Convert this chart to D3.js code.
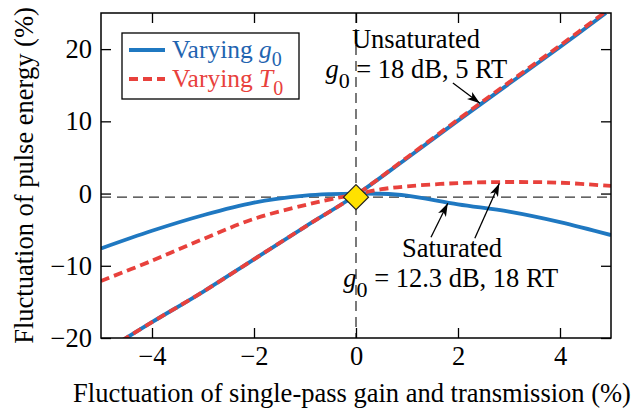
<!DOCTYPE html>
<html>
<head>
<meta charset="utf-8">
<script src="https://cdn.jsdelivr.net/npm/d3@7.9.0/dist/d3.min.js"></script>
</head>
<body style="margin:0;background:#fff">
<div id="chart"></div>
<script>
// ─── data ────────────────────────────────────────────────────────────────────
const xUnsat      = [-4.6, -4, -3, -2, -1, 0, 1, 2, 3, 4, 4.9];
const unsatG0     = [-20.4, -17.8, -13.6, -9.1, -4.6, -0.2, 4.9, 10.1, 15.2, 20.3, 25.0];
const unsatT0     = [-20.4, -17.8, -13.6, -9.1, -4.6, -0.2, 5.0, 10.25, 15.4, 20.5, 25.2];

const xSat        = [-5, -4, -3, -2, -1, -0.5, 0, 0.5, 1, 2, 3, 4, 5];
const satG0       = [-7.6, -5.15, -3.0, -1.25, -0.3, -0.08, 0.0, -0.03, -0.3, -1.5, -2.5, -3.95, -5.75];
const satT0       = [-12.1, -9.3, -6.3, -3.5, -1.6, -0.8, -0.1, 0.6, 1.0, 1.45, 1.6, 1.5, 1.05];

const xTicks = [-4, -2, 0, 2, 4];
const yTicks = [-20, -10, 0, 10, 20];
const refX = 0, refY = -0.5;

const BLUE = '#1f78c1', RED = '#e8413c';
const FONT = '"Liberation Serif", "Times New Roman", serif';
const FS = 26.5;

// ─── layout ──────────────────────────────────────────────────────────────────
const W = 643, H = 411;
const M = { top: 13, right: 32, bottom: 73, left: 101 };
const IW = W - M.left - M.right, IH = H - M.top - M.bottom;

const svg = d3.select('#chart').append('svg')
  .attr('width', W).attr('height', H);

const defs = svg.append('defs');
const g = svg.append('g').attr('transform', `translate(${M.left},${M.top})`);

const x = d3.scaleLinear().domain([-5, 5]).range([0, IW]);
const y = d3.scaleLinear().domain([-20, 25]).range([IH, 0]);

defs.append('clipPath').attr('id', 'clip')
  .append('rect').attr('width', IW).attr('height', IH);

// reference lines
g.append('line')
  .attr('x1', 0).attr('x2', IW).attr('y1', y(refY)).attr('y2', y(refY))
  .attr('stroke', '#333').attr('stroke-width', 1.3).attr('stroke-dasharray', '10 6');
g.append('line')
  .attr('x1', x(refX)).attr('x2', x(refX)).attr('y1', 0).attr('y2', IH)
  .attr('stroke', '#333').attr('stroke-width', 1.3).attr('stroke-dasharray', '10 6');

// curves
const line = d3.line()
  .x(d => x(d[0])).y(d => y(d[1]))
  .curve(d3.curveCatmullRom.alpha(0.5));

const plot = g.append('g').attr('clip-path', 'url(#clip)');
const zip = (xs, ys) => xs.map((v, i) => [v, ys[i]]);

const series = [
  { pts: zip(xSat, satG0),     color: BLUE, dash: null },
  { pts: zip(xSat, satT0),     color: RED,  dash: '9 5' },
  { pts: zip(xUnsat, unsatG0), color: BLUE, dash: null },
  { pts: zip(xUnsat, unsatT0), color: RED,  dash: '9 5' }
];
series.forEach(s => {
  plot.append('path')
    .datum(s.pts)
    .attr('fill', 'none')
    .attr('stroke', s.color)
    .attr('stroke-width', 3.8)
    .attr('stroke-dasharray', s.dash)
    .attr('d', line);
});

// operating point
const dsz = 12.5;
g.append('path')
  .attr('transform', `translate(${x(refX)},${y(refY)})`)
  .attr('d', `M0,${-dsz}L${dsz},0L0,${dsz}L${-dsz},0Z`)
  .attr('fill', '#ffe100').attr('stroke', '#222').attr('stroke-width', 1.2);

// ─── annotations ─────────────────────────────────────────────────────────────
defs.append('marker')
  .attr('id', 'arr').attr('viewBox', '0 0 12 8')
  .attr('refX', 12).attr('refY', 4)
  .attr('markerWidth', 13).attr('markerHeight', 9)
  .attr('markerUnits', 'userSpaceOnUse')
  .attr('orient', 'auto')
  .append('path').attr('d', 'M0,0L12,4L0,8L3,4Z').attr('fill', '#000');

function arrow(x1, y1, x2, y2) {
  g.append('line')
    .attr('x1', x(x1)).attr('y1', y(y1)).attr('x2', x(x2)).attr('y2', y(y2))
    .attr('stroke', '#000').attr('stroke-width', 1.3)
    .attr('marker-end', 'url(#arr)');
}
arrow(1.9, 15.3, 2.43, 12.5);
arrow(1.47, -6.05, 1.8, -1.35);
arrow(2.33, -6.2, 2.81, 1.4);

function label(cx, cy, parts, anchor) {
  const t = g.append('text')
    .attr('x', cx).attr('y', cy)
    .attr('font-size', FS).attr('fill', '#000')
    .style('font-family', FONT)
    .attr('text-anchor', anchor || 'middle');
  parts.forEach(p => {
    const ts = t.append('tspan').text(p.t);
    if (p.i) ts.attr('font-style', 'italic');
    if (p.sub) ts.attr('dy', 10).attr('font-size', 22);
    if (p.up) ts.attr('dy', -10);
  });
}
label(416 - M.left, 48 - M.top, [{ t: 'Unsaturated' }]);
label(x(-0.6), 78 - M.top, [{ t: 'g', i: 1 }, { t: '0', sub: 1 }, { t: ' = 18 dB, 5 RT', up: 1 }], 'start');
label(452 - M.left, 257 - M.top, [{ t: 'Saturated' }]);
label(x(-0.25), 287 - M.top, [{ t: 'g', i: 1 }, { t: '0', sub: 1 }, { t: ' = 12.3 dB, 18 RT', up: 1 }], 'start');

// ─── axes (box with inward ticks on all sides) ───────────────────────────────
const TL = 10;
const fmt = d => d < 0 ? '\u2212' + Math.abs(d) : String(d);

const axB = g.append('g').attr('transform', `translate(0,${IH})`)
  .call(d3.axisBottom(x).tickValues(xTicks).tickSizeInner(-TL).tickSizeOuter(0).tickPadding(8).tickFormat(fmt));
const axT = g.append('g')
  .call(d3.axisTop(x).tickValues(xTicks).tickSizeInner(-TL).tickSizeOuter(0).tickFormat(''));
const axL = g.append('g')
  .call(d3.axisLeft(y).tickValues(yTicks).tickSizeInner(-TL).tickSizeOuter(0).tickPadding(9).tickFormat(fmt));
const axR = g.append('g').attr('transform', `translate(${IW},0)`)
  .call(d3.axisRight(y).tickValues(yTicks).tickSizeInner(-TL).tickSizeOuter(0).tickFormat(''));

[axB, axT, axL, axR].forEach(a => {
  a.select('.domain').remove();
  a.attr('font-family', null);
  a.selectAll('line').attr('stroke', '#000').attr('stroke-width', 1.3);
  a.selectAll('text')
    .attr('fill', '#000').attr('font-size', FS)
    .style('font-family', FONT);
});

g.append('rect')
  .attr('width', IW).attr('height', IH)
  .attr('fill', 'none').attr('stroke', '#000').attr('stroke-width', 1.5);

svg.append('text')
  .attr('x', 352).attr('y', 402)
  .attr('text-anchor', 'middle').attr('font-size', FS)
  .style('font-family', FONT)
  .text('Fluctuation of single-pass gain and transmission (%)');

svg.append('text')
  .attr('transform', `translate(32.5,${M.top + IH / 2}) rotate(-90)`)
  .attr('text-anchor', 'middle').attr('font-size', FS)
  .style('font-family', FONT)
  .text('Fluctuation of pulse energy (%)');

// ─── legend ──────────────────────────────────────────────────────────────────
const leg = svg.append('g').attr('transform', 'translate(122,33)');
leg.append('rect').attr('width', 177).attr('height', 66)
  .attr('fill', '#fff').attr('stroke', '#000').attr('stroke-width', 1.3);

[{ c: BLUE, tc: '#1f64b0', dash: null, sym: 'g', y: 17 },
 { c: RED,  tc: RED,       dash: '9 5', sym: 'T', y: 46 }].forEach(e => {
  leg.append('line').attr('x1', 7).attr('x2', 43).attr('y1', e.y).attr('y2', e.y)
    .attr('stroke', e.c).attr('stroke-width', 3.8).attr('stroke-dasharray', e.dash);
  const t = leg.append('text').attr('x', 50).attr('y', e.y + 7.5)
    .attr('font-size', 25.5).attr('fill', e.tc)
    .style('font-family', FONT);
  t.append('tspan').text('Varying ');
  t.append('tspan').attr('font-style', 'italic').text(e.sym);
  t.append('tspan').attr('dy', 8).attr('font-size', 20).text('0');
});
</script>
</body>
</html>
